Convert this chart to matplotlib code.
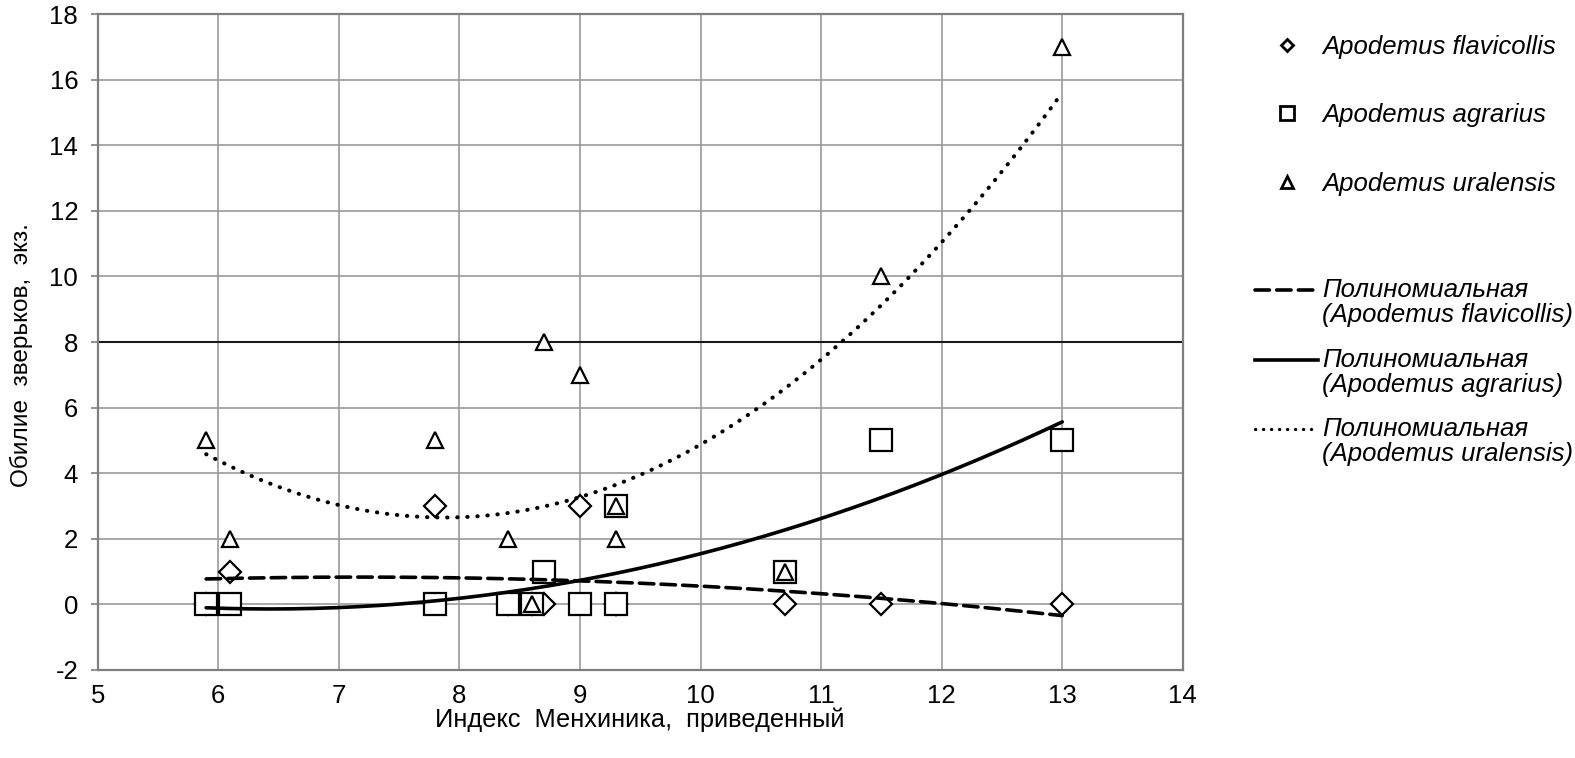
import numpy as np
from matplotlib import pyplot as plt
from matplotlib.lines import Line2D
from matplotlib.legend_handler import HandlerLine2D

plt.rcParams['font.family'] = ['Liberation Sans', 'DejaVu Sans']
plt.rcParams['axes.unicode_minus'] = False

# site index values (two sites at 9.3)
x = [5.9, 6.1, 7.8, 8.4, 8.6, 8.7, 9.0, 9.3, 9.3, 10.7, 11.5, 13.0]
flavicollis = [0, 1, 3, 0, 0, 0, 3, 0, 0, 0, 0, 0]
agrarius = [0, 0, 0, 0, 0, 1, 0, 3, 0, 1, 5, 5]
uralensis = [5, 2, 5, 2, 0, 8, 7, 3, 2, 1, 10, 17]

names = ['Apodemus flavicollis', 'Apodemus agrarius', 'Apodemus uralensis']
xticks = list(range(5, 15))
yticks = list(range(-2, 19, 2))


class FirstLineHandler(HandlerLine2D):
    # put the legend line next to the first row of a two-row label
    def create_artists(self, legend, orig_handle, xdescent, ydescent,
                       width, height, fontsize, trans):
        arts = super().create_artists(legend, orig_handle, xdescent, ydescent,
                                      width, height, fontsize, trans)
        for a in arts:
            a.set_ydata(np.asarray(a.get_ydata()) + 0.5 * fontsize)
        return arts


fig = plt.figure(figsize=(15.75, 7.58), dpi=100)
ax = fig.add_axes([0.062, 0.1161, 0.689, 0.8654])

# scatter points: diamonds under squares under triangles
ax.plot(x, flavicollis, linestyle='none', marker='D', markersize=11,
        markerfacecolor='white', markeredgecolor='black', markeredgewidth=1.6, zorder=3)
ax.plot(x, agrarius, linestyle='none', marker='s', markersize=16,
        markerfacecolor='white', markeredgecolor='black', markeredgewidth=1.6, zorder=4)
ax.plot(x, uralensis, linestyle='none', marker='^', markersize=11.5,
        markerfacecolor='white', markeredgecolor='black', markeredgewidth=1.6, zorder=5)

# polynomial (2nd order) trend lines
xs = np.linspace(min(x), max(x), 200)
styles = [(0, (4, 2)), '-', (0, (0.1, 2.4))]
widths = [2.6, 2.6, 2.9]
for yv, ls, lw in zip([flavicollis, agrarius, uralensis], styles, widths):
    c = np.polyfit(x, yv, 2)
    ax.plot(xs, np.polyval(c, xs), color='black', linewidth=lw, linestyle=ls,
            dash_capstyle='round', solid_capstyle='round', zorder=6)

ax.set_xlim(5, 14)
ax.set_ylim(-2, 18)
ax.set_xticks(xticks)
ax.set_yticks(yticks)
ax.grid(True, color='#9a9a9a', linewidth=1.2)
ax.get_ygridlines()[5].set_color('#1a1a1a')
ax.get_ygridlines()[5].set_linewidth(1.5)
ax.set_axisbelow(True)
for s in ax.spines.values():
    s.set_color('#7f7f7f')
    s.set_linewidth(1.6)
ax.tick_params(axis='y', direction='out', length=5, width=1.2, color='#7f7f7f',
               labelsize=18.5, pad=9)
ax.tick_params(axis='x', length=0, labelsize=18.5, pad=10)
ax.set_xlabel('Индекс  Менхиника,  приведенный', fontsize=18.3, labelpad=0)
ax.set_ylabel('Обилие  зверьков,  экз.', fontsize=17.6, labelpad=12)
ax.yaxis.label.set_y(0.48)

# legends
mk = [Line2D([], [], linestyle='none', marker=m, markersize=ms, markerfacecolor='white',
             markeredgecolor='black', markeredgewidth=2)
      for m, ms in [('D', 6.5), ('s', 9.5), ('^', 8)]]
leg1 = fig.legend(mk, names, loc='upper left', bbox_to_anchor=(0.797, 0.954),
                  frameon=False, handlelength=2.45, handletextpad=0.16,
                  labelspacing=1.73, borderpad=0, borderaxespad=0,
                  prop={'style': 'italic', 'size': 18.5})

ln = [Line2D([], [], color='black', linewidth=lw, linestyle=ls,
             dash_capstyle='round') for ls, lw in zip(styles, [2.6, 2.6, 2.3])]
lab2 = ['Полиномиальная\n(' + n + ')' for n in names]
leg2 = fig.legend(ln, lab2, loc='upper left', bbox_to_anchor=(0.797, 0.633),
                  frameon=False, handlelength=2.45, handletextpad=0.16,
                  labelspacing=0.8, borderpad=0, borderaxespad=0,
                  prop={'style': 'italic', 'size': 18.5},
                  handler_map={Line2D: FirstLineHandler()})
for t in leg2.get_texts():
    t.set_linespacing(1.05)

fig.savefig('out.png', dpi=100)
